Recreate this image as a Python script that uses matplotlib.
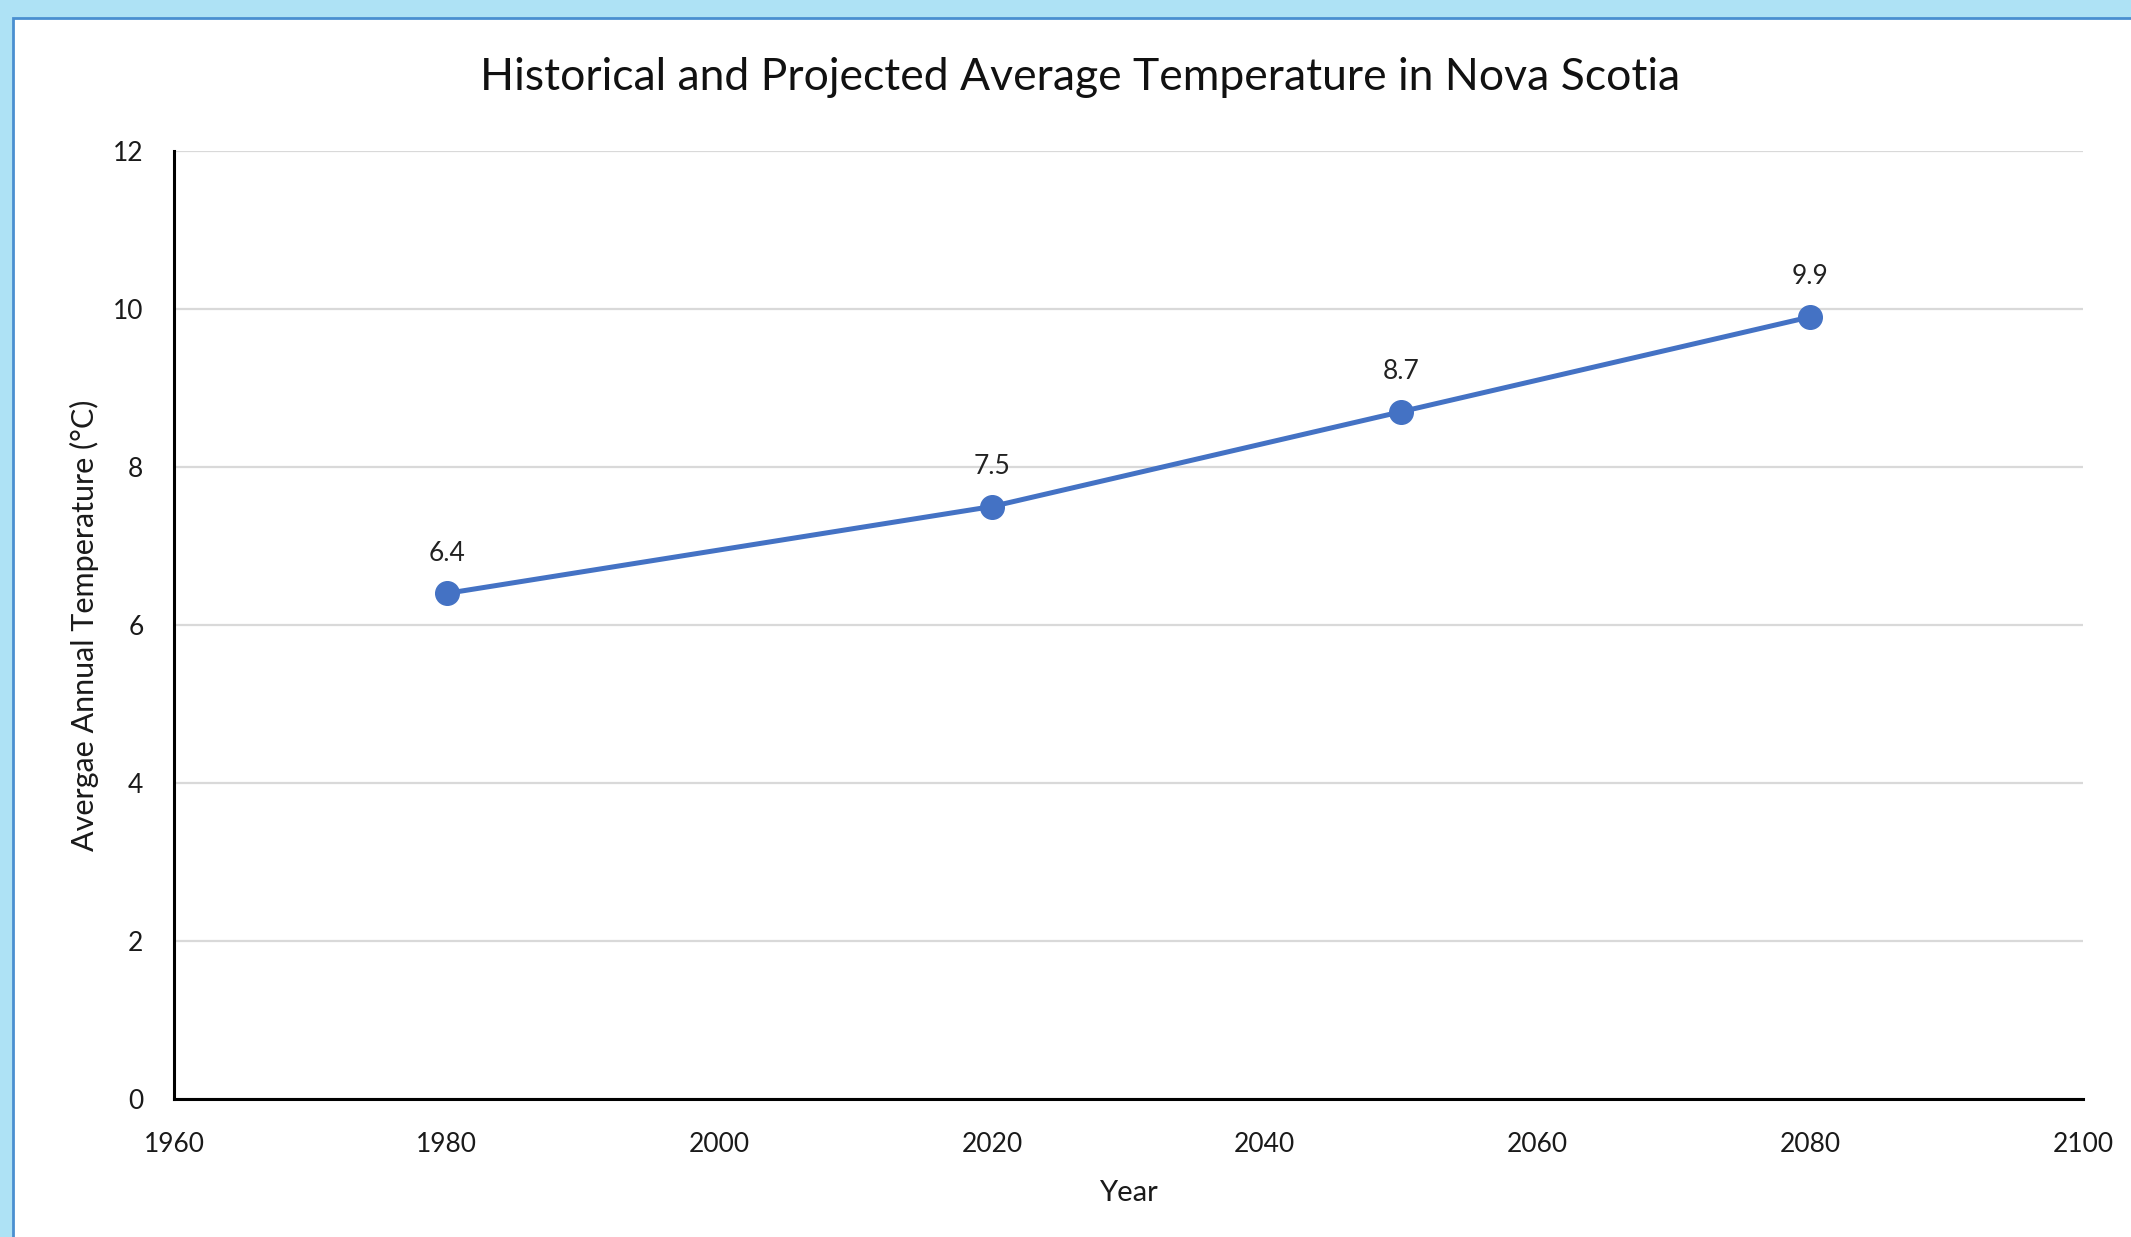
import matplotlib
matplotlib.use("Agg")
import matplotlib.pyplot as plt
from matplotlib.patches import Rectangle

years = [1980, 2020, 2050, 2080]
temps = [6.4, 7.5, 8.7, 9.9]
x_ticks = [1960, 1980, 2000, 2020, 2040, 2060, 2080, 2100]
y_ticks = [0, 2, 4, 6, 8, 10, 12]

plt.rcParams['font.family'] = ['Lato', 'DejaVu Sans']

W, H = 2131, 1237
fig = plt.figure(figsize=(W / 100, H / 100), dpi=100)
fig.patch.set_facecolor('#aee2f5')

# white panel with thin darker blue edge (runs off the right and bottom)
fig.patches.append(Rectangle((13 / W, -0.02), 1.05, 1.02 - 18 / H, transform=fig.transFigure,
                             facecolor='white', edgecolor='#4a8fd0', linewidth=2, zorder=-5))

ax = fig.add_axes([174 / W, 1 - 1099 / H, (2083 - 174) / W, (1099 - 151) / H])
ax.set_facecolor('none')

ax.plot(years, temps, color='#4472C4', linewidth=3.6, marker='o', markersize=17,
        zorder=3, solid_capstyle='round')
for x, y in zip(years, temps):
    ax.annotate(f'{y}', (x, y), xytext=(0, 29), textcoords='offset points',
                ha='center', va='center', fontsize=19, color='#222222')

ax.set_xlim(1960, 2100)
ax.set_ylim(0, 12)
ax.set_xticks(x_ticks)
ax.set_yticks(y_ticks)
ax.grid(axis='y', color='#d9d9d9', linewidth=1.6)
ax.set_axisbelow(True)
ax.tick_params(length=0, labelsize=19, labelcolor='#1a1a1a')
ax.tick_params(axis='x', pad=24)
ax.tick_params(axis='y', pad=22)

for s in ['top', 'right']:
    ax.spines[s].set_visible(False)
for s in ['left', 'bottom']:
    ax.spines[s].set_linewidth(2.2)
    ax.spines[s].set_color('black')

ax.set_xlabel('Year', fontsize=21, color='#1a1a1a', labelpad=16)
ax.set_ylabel('Avergae Annual Temperature (°C)', fontsize=22, color='#1a1a1a', labelpad=10)
fig.text(1080 / W, 1 - 77 / H, 'Historical and Projected Average Temperature in Nova Scotia',
         ha='center', va='center', fontsize=32, color='#111111')

fig.savefig('out.png', dpi=100)
